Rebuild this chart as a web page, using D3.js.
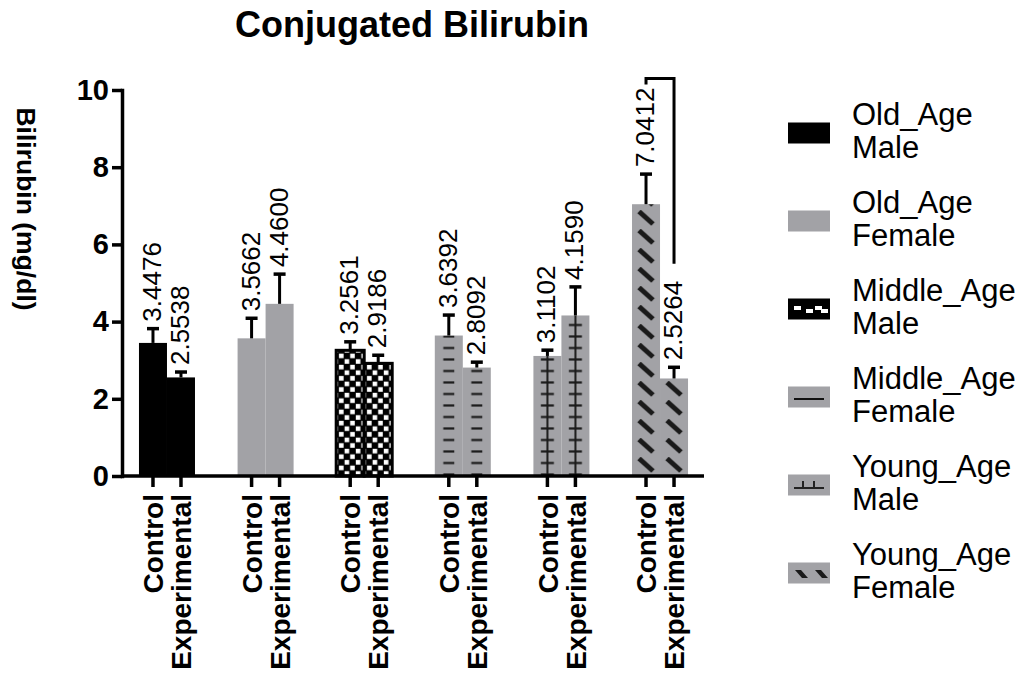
<!DOCTYPE html>
<html><head><meta charset="utf-8">
<script src="https://cdn.jsdelivr.net/npm/d3@7"></script>
<style>body{margin:0;background:#fff}svg{display:block}</style>
</head><body>
<svg id="c" width="1023" height="679"></svg>
<script>
// ---------- data ----------
const groups = ["Old_Age Male","Old_Age Female","Middle_Age Male","Middle_Age Female","Young_Age Male","Young_Age Female"];
const conditions = ["Control","Experimental"];
const controlMeans = [3.4476, 3.5662, 3.2561, 3.6392, 3.1102, 7.0412];
const experimentalMeans = [2.5538, 4.4600, 2.9186, 2.8092, 4.1590, 2.5264];
const controlErr = [0.37, 0.52, 0.22, 0.53, 0.15, 0.78];
const experimentalErr = [0.14, 0.77, 0.21, 0.14, 0.74, 0.29];
const valueLabels = [["3.4476","2.5538"],["3.5662","4.4600"],["3.2561","2.9186"],["3.6392","2.8092"],["3.1102","4.1590"],["7.0412","2.5264"]];
const yTicks = [0, 2, 4, 6, 8, 10];
const legendLines = [["Old_Age","Male"],["Old_Age","Female"],["Middle_Age","Male"],["Middle_Age","Female"],["Young_Age","Male"],["Young_Age","Female"]];
const bracketGroup = "Young_Age Female";
const bracketValues = [10.3, 5.5]; // top of bracket, bottom of right leg
const titleText = "Conjugated Bilirubin";
const yTitle = "Bilirubin (mg/dl)";

// ---------- setup ----------
const FONT = "'Liberation Sans', Arial, Helvetica, sans-serif";
const GRAY = "#a2a2a6";
const svg = d3.select("#c");
const defs = svg.append("defs");

const y = d3.scaleLinear().domain([0, 10]).range([476, 90]);
const x0 = d3.scaleBand().domain(groups).range([123, 704]).paddingInner(0.432).paddingOuter(0.162);
const x1 = d3.scaleBand().domain(conditions).range([0, x0.bandwidth()]);
const bw = x1.bandwidth();

const styles = ["black","gray","checker","hdash","cross","diag"];

const bars = [];
groups.forEach((g, i) => {
  bars.push({g, i, c: "Control", v: controlMeans[i], e: controlErr[i], lab: valueLabels[i][0]});
  bars.push({g, i, c: "Experimental", v: experimentalMeans[i], e: experimentalErr[i], lab: valueLabels[i][1]});
});

function makePattern(id, style, px, py, w) {
  let h = 11.5;
  if (style === "checker") h = 11.2;
  if (style === "diag") h = 19;
  const p = defs.append("pattern").attr("id", id).attr("patternUnits", "userSpaceOnUse")
    .attr("x", px + (style === "checker" ? 2 : 0)).attr("y", py).attr("width", style === "checker" ? 11.2 : w).attr("height", h);
  if (style === "checker") {
    p.append("rect").attr("width", 11.2).attr("height", 11.2).attr("fill", "#000");
    p.append("rect").attr("x", 0.8).attr("y", 0.8).attr("width", 4.6).attr("height", 4.6).attr("fill", "#fff");
    p.append("rect").attr("x", 6.4).attr("y", 6.4).attr("width", 4.6).attr("height", 4.6).attr("fill", "#fff");
  } else if (style === "hdash") {
    p.append("rect").attr("width", w).attr("height", h).attr("fill", GRAY);
    p.append("line").attr("x1", w/2 - 5.5).attr("x2", w/2 + 5.5).attr("y1", 10).attr("y2", 10).attr("stroke", "#1a1a1a").attr("stroke-width", 2.2);
  } else if (style === "cross") {
    p.append("rect").attr("width", w).attr("height", h).attr("fill", GRAY);
    p.append("line").attr("x1", w/2 - 6.5).attr("x2", w/2 + 6.5).attr("y1", 10).attr("y2", 10).attr("stroke", "#1a1a1a").attr("stroke-width", 2.2);
    p.append("line").attr("x1", w/2).attr("x2", w/2).attr("y1", 0).attr("y2", h).attr("stroke", "#1a1a1a").attr("stroke-width", 2);
  } else if (style === "diag") {
    p.append("rect").attr("width", w).attr("height", h).attr("fill", GRAY);
    p.append("line").attr("x1", 7).attr("y1", 1.5).attr("x2", 21).attr("y2", 14).attr("stroke", "#1a1a1a").attr("stroke-width", 5);
  }
}

function fillFor(d, k) {
  const s = styles[d.i];
  if (s === "black") return "#000";
  if (s === "gray") return GRAY;
  const id = "pat" + k;
  makePattern(id, s, x0(d.g) + x1(d.c), y(0), bw);
  return "url(#" + id + ")";
}

// ---------- bars ----------
const barG = svg.append("g");
barG.selectAll("rect").data(bars).join("rect")
  .attr("x", d => x0(d.g) + x1(d.c))
  .attr("y", d => y(d.v))
  .attr("width", bw)
  .attr("height", d => y(0) - y(d.v))
  .attr("fill", (d, k) => fillFor(d, k))
  .attr("stroke", d => styles[d.i] === "checker" ? "#000" : "none")
  .attr("stroke-width", 3);

// ---------- error bars ----------
const errG = svg.append("g").attr("stroke", "#000").attr("stroke-width", 3);
bars.forEach(d => {
  const cx = x0(d.g) + x1(d.c) + bw / 2;
  errG.append("line").attr("x1", cx).attr("x2", cx).attr("y1", y(d.v)).attr("y2", y(d.v + d.e));
  errG.append("line").attr("x1", cx - 6).attr("x2", cx + 6).attr("y1", y(d.v + d.e)).attr("y2", y(d.v + d.e)).attr("stroke-width", 3.5);
});

// ---------- value labels ----------
svg.append("g").selectAll("text").data(bars).join("text")
  .attr("transform", d => `translate(${x0(d.g) + x1(d.c) + bw / 2 + 8},${y(d.v + d.e) - 7}) rotate(-90)`)
  .attr("font-family", FONT).attr("font-size", 26).attr("fill", "#000")
  .attr("text-anchor", "start")
  .text(d => d.lab);

// ---------- bracket ----------
{
  const xl = x0(bracketGroup) + x1("Control") + bw / 2;
  const xr = x0(bracketGroup) + x1("Experimental") + bw / 2;
  svg.append("path")
    .attr("d", `M${xl},${y(bracketValues[0]) + 6}V${y(bracketValues[0])}H${xr}V${y(bracketValues[1])}`)
    .attr("fill", "none").attr("stroke", "#000").attr("stroke-width", 3);
}

// ---------- axes ----------
const yAxis = svg.append("g").attr("transform", "translate(122,0)")
  .call(d3.axisLeft(y).tickValues(yTicks).tickSize(10).tickSizeOuter(0).tickPadding(3));
yAxis.select(".domain").attr("stroke-width", 3.5).attr("stroke-linecap", "square");
yAxis.selectAll(".tick line").attr("stroke-width", 3.5);
yAxis.selectAll(".tick text").attr("font-family", FONT).attr("font-size", 29).attr("font-weight", "bold").attr("fill", "#000");

svg.append("line")
  .attr("x1", x0.range()[0]).attr("x2", x0.range()[1])
  .attr("y1", y(0)).attr("y2", y(0))
  .attr("stroke", "#000").attr("stroke-width", 3.5);

groups.forEach(g => {
  const ax = svg.append("g").attr("transform", `translate(${x0(g)},${y(0)})`)
    .call(d3.axisBottom(x1).tickSize(11).tickSizeOuter(0));
  ax.select(".domain").remove();
  ax.selectAll(".tick line").attr("stroke-width", 3.5);
  ax.selectAll(".tick text")
    .attr("transform", "rotate(-90)")
    .attr("x", -18).attr("y", 0).attr("dy", "0.36em")
    .attr("text-anchor", "end")
    .attr("font-family", FONT).attr("font-size", 28).attr("font-weight", "bold").attr("fill", "#000");
});

// ---------- titles ----------
svg.append("text").attr("x", 412).attr("y", 37).attr("text-anchor", "middle")
  .attr("font-family", FONT).attr("font-size", 36).attr("font-weight", "bold").text(titleText);

svg.append("text").attr("transform", "translate(26,209) rotate(90)")
  .attr("text-anchor", "middle").attr("dy", "0.35em")
  .attr("font-family", FONT).attr("font-size", 26.5).attr("font-weight", "bold").text(yTitle);

// ---------- legend ----------
const lg = svg.append("g");
legendLines.forEach((lines, i) => {
  const cy = 133 + i * 88;
  const sx = 788, sw = 42, sh = 21, sy = cy - 10.5;
  const s = styles[i];
  lg.append("rect").attr("x", sx).attr("y", sy).attr("width", sw).attr("height", sh)
    .attr("fill", (s === "black" || s === "checker") ? "#000" : GRAY);
  if (s === "checker") {
    [[6,-3],[18,0],[27,-3],[33,0]].forEach(([dx, dy]) => {
      lg.append("rect").attr("x", sx + dx).attr("y", cy + dy).attr("width", 7).attr("height", 4).attr("fill", "#fff");
    });
  } else if (s === "hdash") {
    lg.append("line").attr("x1", sx + 6).attr("x2", sx + 36).attr("y1", cy + 2).attr("y2", cy + 2).attr("stroke", "#111").attr("stroke-width", 2);
  } else if (s === "cross") {
    lg.append("line").attr("x1", sx + 6).attr("x2", sx + 36).attr("y1", cy + 3).attr("y2", cy + 3).attr("stroke", "#222").attr("stroke-width", 2);
    [15, 26].forEach(dx => lg.append("line").attr("x1", sx + dx).attr("x2", sx + dx).attr("y1", cy - 4).attr("y2", cy + 3).attr("stroke", "#222").attr("stroke-width", 2));
  } else if (s === "diag") {
    [[7,-3],[27,-3]].forEach(([dx, dy]) => {
      lg.append("polygon")
        .attr("points", `${sx+dx},${cy+dy} ${sx+dx+6},${cy+dy} ${sx+dx+13},${cy+dy+8} ${sx+dx+7},${cy+dy+8}`)
        .attr("fill", "#1a1a1a");
    });
  }
  lines.forEach((t, j) => {
    lg.append("text").attr("x", 852).attr("y", cy - 8.5 + j * 33)
      .attr("font-family", FONT).attr("font-size", 31).attr("fill", "#000").text(t);
  });
});
</script>
</body></html>
